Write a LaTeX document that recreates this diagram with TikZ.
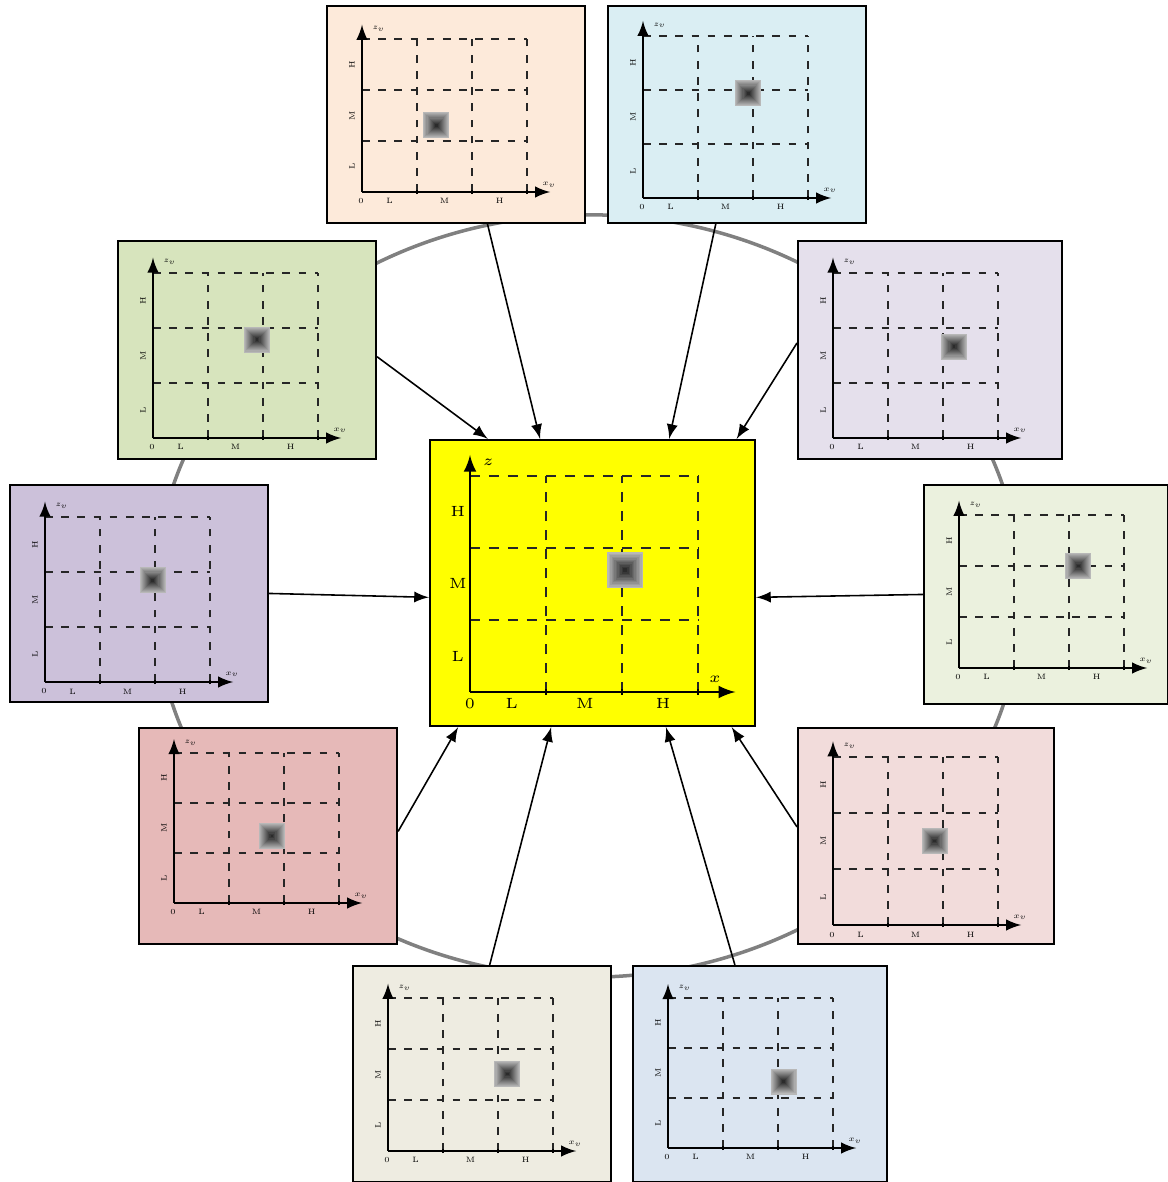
\documentclass[tikz,border=0pt]{standalone}
\usepackage{tikz}

\definecolor{pTL}{HTML}{FDEADA}
\definecolor{pTR}{HTML}{DAEEF3}
\definecolor{pRU}{HTML}{E5E0EC}
\definecolor{pRM}{HTML}{EBF1DE}
\definecolor{pRL}{HTML}{F2DCDB}
\definecolor{pBR}{HTML}{DBE5F1}
\definecolor{pBL}{HTML}{EEECE1}
\definecolor{pLL}{HTML}{E6B9B8}
\definecolor{pLM}{HTML}{CCC1DA}
\definecolor{pLU}{HTML}{D7E4BD}
\definecolor{fuseyellow}{HTML}{FFFF00}

\tikzset{
	panel/.style={draw=black, line width=0.6pt, inner sep=0pt, anchor=south west},
	fused/.style={draw=black, line width=0.6pt, fill=fuseyellow, inner sep=0pt},
	ring/.style={draw=black!50, line width=1pt},
	feed/.style={->, >=latex, line width=0.45pt},
	axis/.style={->, >=latex, line width=0.5pt},
	gridline/.style={dash pattern=on 2.2pt off 2.4pt, line width=0.5pt, black!85},
	lab/.style={font=\tiny, inner sep=0.5pt, scale=0.44},
	biglab/.style={font=\tiny, inner sep=0.5pt, scale=0.84}
}

\begin{document}
\begin{tikzpicture}[x=0.01cm, y=-0.01cm]
	\useasboundingbox (0,0) rectangle (1168,1182);
	% ring behind the panels
	\draw[ring] (588,596) ellipse [x radius=4.33cm, y radius=3.81cm];

	% fused rule base
	\node[fused, minimum width=3.25cm, minimum height=2.86cm] (fus) at (592.5,583) {};
	\begin{scope}[shift={(470,692)}, x=0.76cm, y=0.72cm]
		\draw[gridline, line width=0.7pt, dash pattern=on 2.8pt off 2.6pt] (1,0) -- (1,3) (2,0) -- (2,3) (3,0) -- (3,3) (0,1) -- (3,1) (0,2) -- (3,2) (0,3) -- (3,3);
		\foreach \k in {0,...,11} {
			\pgfmathsetmacro\hs{5.1-0.41*\k}
			\pgfmathsetmacro\dk{28+5*\k}
			\fill[black!\dk] (2.04,1.69) ++(-\hs pt,-\hs pt) rectangle ++(2*\hs pt,2*\hs pt);
		}
		\draw[axis, line width=0.65pt] (0,0) -- (0,3.29);
		\draw[axis, line width=0.65pt] (0,0) -- (3.49,0);
		\foreach \i in {1,2,3} { \draw[line width=0.5pt] (\i,-0.04) -- (\i,0.04); }
		\node[biglab] (fus-o) at (0,-0.16) {0};
		\foreach \t/\p [count=\i] in {L/0.55,M/1.51,H/2.54} {
			\node[biglab] (fus-x\i) at (\p,-0.16) {\t};
			\node[biglab] (fus-y\i) at (-0.16,\i-0.5) {\t};
		}
		\node[biglab] (fus-zl) at (0.24,3.19) {$z$};
		\node[biglab] (fus-xl) at (3.22,0.17) {$x$};
	\end{scope}

	% the ten single-source panels
	\foreach \nm/\bx/\by/\bw/\bh/\oy/\cy/\col/\sx/\sy in {
		tl/326/224/258/217/32/51/pTL/1.35/1.31,
		tr/607/224/258/217/26/54/pTR/1.91/1.94,
		ru/797/460/264/218/22/55/pRU/2.2/1.66,
		rm/923/705/244/219/37/51/pRM/2.17/2.0,
		rl/797/945/256/216/20/56/pRL/1.85/1.5,
		br/632/1183/254/216/35/50/pBR/2.1/1.33,
		bl/352/1183/258/216/32/51/pBL/2.17/1.51,
		ll/138/945/258/216/42/50/pLL/1.78/1.34,
		lm/9/703/258/217/21/55/pLM/1.96/1.85,
		lu/117/460/258/218/22/55/pLU/1.89/1.79} {
		\node[panel, fill=\col, minimum width=\bw*0.01cm, minimum height=\bh*0.01cm] (\nm) at (\bx,\by) {};
		\begin{scope}[shift={(\bx+36,\by-\oy)}, x=0.55cm, y=\cy*0.01cm]
			\draw[gridline] (1,0) -- (1,3) (2,0) -- (2,3) (3,0) -- (3,3) (0,1) -- (3,1) (0,2) -- (3,2) (0,3) -- (3,3);
			\foreach \k in {0,...,11} {
				\pgfmathsetmacro\hs{3.7-0.3*\k}
				\pgfmathsetmacro\dk{28+5*\k}
				\fill[black!\dk] (\sx,\sy) ++(-\hs pt,-\hs pt) rectangle ++(2*\hs pt,2*\hs pt);
			}
			\draw[axis] (0,0) -- (0,3.28);
			\draw[axis] (0,0) -- (3.42,0);
			\foreach \i in {1,2,3} { \draw[line width=0.4pt] (\i,-0.04) -- (\i,0.04); }
			\node[lab] (\nm-o) at (-0.02,-0.17) {0};
			\foreach \t [count=\i] in {L,M,H} {
				\node[lab] (\nm-x\i) at (\i-0.5,-0.17) {\t};
				\node[lab, rotate=90] (\nm-y\i) at (-0.18,\i-0.5) {\t};
			}
			\node[lab] (\nm-zl) at (0.3,3.2) {$z_v$};
			\node[lab] (\nm-xl) at (3.4,0.14) {$x_v$};
		\end{scope}
	}

	% every panel feeds the fused one
	\draw[feed] (tl.286.4) -- (fus.110.2);
	\draw[feed] (tr.259.6) -- (fus.62.8);
	\draw[feed] (ru.177.4) -- (fus.45.1);
	\draw[feed] (rm.180) -- (fus.355);
	\draw[feed] (rl.176.9) -- (fus.314.9);
	\draw[feed] (br.103.6) -- (fus.297.2);
	\draw[feed] (bl.86.8) -- (fus.254.2);
	\draw[feed] (ll.2.2) -- (fus.227.6);
	\draw[feed] (lm.0) -- (fus.185);
	\draw[feed] (lu.357.4) -- (fus.126.2);
\end{tikzpicture}
\end{document}
